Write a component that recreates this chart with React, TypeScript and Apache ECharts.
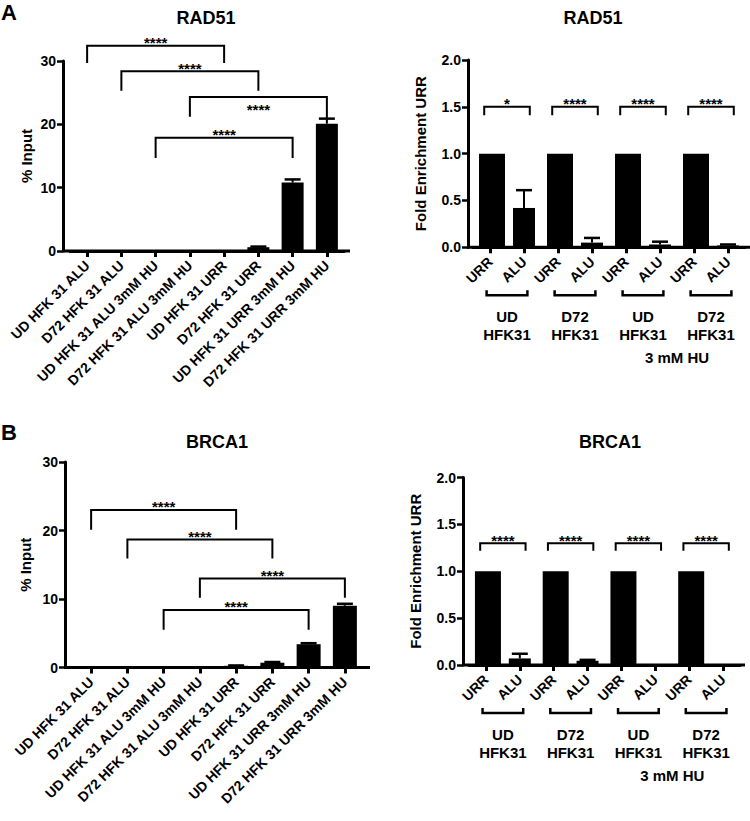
import React, { useEffect, useRef } from "react";
import * as echarts from "echarts";

const FONT = "'Liberation Sans', Arial, Helvetica, sans-serif";

// ---------- data ----------
const inputCategories = [
  "UD HFK 31 ALU",
  "D72 HFK 31 ALU",
  "UD HFK 31 ALU 3mM HU",
  "D72 HFK 31 ALU 3mM HU",
  "UD HFK 31 URR",
  "D72 HFK 31 URR",
  "UD HFK 31 URR 3mM HU",
  "D72 HFK 31 URR 3mM HU",
];
const inputTicks = [0, 10, 20, 30];
const rad51Input = [0, 0, 0, 0, 0.03, 0.6, 10.8, 20.1];
const rad51InputErr = [0, 0, 0, 0, 0, 0.1, 0.5, 0.8];
const brca1Input = [0, 0, 0, 0, 0.25, 0.7, 3.4, 9.0];
const brca1InputErr = [0, 0, 0, 0, 0.05, 0.1, 0.15, 0.3];

const foldGroups = ["UD HFK31", "D72 HFK31", "UD HFK31", "D72 HFK31"];
const foldTargets = ["URR", "ALU"];
const foldCategories = foldGroups.flatMap((g, gi) => foldTargets.map((t) => `${gi}|${t}`));
const foldTicks = [0, 0.5, 1, 1.5, 2];
const rad51Fold = [1, 0.42, 1, 0.05, 1, 0.03, 1, 0.02];
const rad51FoldErr = [0, 0.19, 0, 0.05, 0, 0.03, 0, 0.01];
const brca1Fold = [1, 0.07, 1, 0.045, 1, 0.005, 1, 0.003];
const brca1FoldErr = [0, 0.05, 0, 0.01, 0, 0, 0, 0];
const treatmentLabel = "3 mM HU";
const treatmentSpan = [4, 7];

// significance brackets: [fromIndex, toIndex, barValue, leftLegEnd, rightLegEnd]
const rad51InputBrackets = [
  [0, 4, 32.4, 29.7, 29.7],
  [1, 5, 28.4, 25.3, 25.3],
  [3, 7, 24.3, 21.2, 21.0],
  [2, 6, 17.9, 14.7, 14.7],
];
const rad51InputStars = ["****", "****", "****", "****"];
const brca1InputBrackets = [
  [0, 4, 23.0, 20.1, 20.1],
  [1, 5, 18.7, 15.9, 15.9],
  [3, 7, 13.0, 10.2, 10.2],
  [2, 6, 8.4, 5.5, 5.5],
];
const brca1InputStars = ["****", "****", "****", "****"];
const rad51FoldBrackets = [
  [0, 1, 1.5, 1.41, 1.41],
  [2, 3, 1.5, 1.41, 1.41],
  [4, 5, 1.5, 1.41, 1.41],
  [6, 7, 1.5, 1.41, 1.41],
];
const rad51FoldStars = ["*", "****", "****", "****"];
const brca1FoldBrackets = [
  [0, 1, 1.3, 1.22, 1.22],
  [2, 3, 1.3, 1.22, 1.22],
  [4, 5, 1.3, 1.22, 1.22],
  [6, 7, 1.3, 1.22, 1.22],
];
const brca1FoldStars = ["****", "****", "****", "****"];

// ---------- layout ----------
type Panel = {
  title: string;
  letter?: string;
  letterY?: number;
  titleX: number;
  titleY: number;
  left: number;
  top: number;
  width: number;
  height: number;
  axisOffset: number;
  ext: number;
  nameGap: number;
  kind: "input" | "fold";
  values: number[];
  errs: number[];
  brackets: number[][];
  stars: string[];
  starsBelow: boolean[];
};

const panels: Panel[] = [
  {
    title: "RAD51", letter: "A", letterY: 12, titleX: 206, titleY: 18,
    left: 70, top: 61, width: 274, height: 190, axisOffset: 7, ext: 6, nameGap: 29,
    kind: "input", values: rad51Input, errs: rad51InputErr,
    brackets: rad51InputBrackets, stars: rad51InputStars, starsBelow: [false, false, true, false],
  },
  {
    title: "RAD51", titleX: 593, titleY: 18,
    left: 473, top: 60, width: 272, height: 187.3, axisOffset: 5, ext: 5, nameGap: 40,
    kind: "fold", values: rad51Fold, errs: rad51FoldErr,
    brackets: rad51FoldBrackets, stars: rad51FoldStars, starsBelow: [false, false, false, false],
  },
  {
    title: "BRCA1", letter: "B", letterY: 432, titleX: 217, titleY: 442,
    left: 73, top: 462, width: 290, height: 205.5, axisOffset: 8, ext: 7, nameGap: 32,
    kind: "input", values: brca1Input, errs: brca1InputErr,
    brackets: brca1InputBrackets, stars: brca1InputStars, starsBelow: [false, false, false, false],
  },
  {
    title: "BRCA1", titleX: 610, titleY: 442,
    left: 469, top: 477.5, width: 271, height: 187.5, axisOffset: 6, ext: 5, nameGap: 40,
    kind: "fold", values: brca1Fold, errs: brca1FoldErr,
    brackets: brca1FoldBrackets, stars: brca1FoldStars, starsBelow: [false, false, false, false],
  },
];

const boldText = (size: number) => ({
  fontFamily: FONT,
  fontWeight: "bold" as const,
  fontSize: size,
  fill: "#000",
});

function buildOption() {
  const grid: any[] = [];
  const xAxis: any[] = [];
  const yAxis: any[] = [];
  const series: any[] = [];
  const graphic: any[] = [];

  panels.forEach((p, i) => {
    grid.push({ left: p.left, top: p.top, width: p.width, height: p.height, outerBoundsMode: "none", containLabel: false });
    const isInput = p.kind === "input";
    const ticks = isInput ? inputTicks : foldTicks;
    xAxis.push({
      type: "category",
      gridIndex: i,
      data: isInput ? inputCategories : foldCategories,
      boundaryGap: true,
      axisLine: { show: true, onZero: false, lineStyle: { color: "#000", width: 3 } },
      axisTick: { show: true, alignWithLabel: true, length: 6, lineStyle: { color: "#000", width: 3 } },
      axisLabel: {
        show: true,
        interval: 0,
        rotate: 45,
        margin: 12,
        color: "#000",
        fontFamily: FONT,
        fontWeight: "bold",
        fontSize: 14,
        formatter: (v: string) => (isInput ? v : v.split("|")[1]),
      },
      splitLine: { show: false },
    });
    yAxis.push({
      type: "value",
      gridIndex: i,
      min: ticks[0],
      max: ticks[ticks.length - 1],
      interval: ticks[1] - ticks[0],
      offset: p.axisOffset,
      axisLine: { show: true, lineStyle: { color: "#000", width: 3 } },
      axisTick: { show: true, length: 6, lineStyle: { color: "#000", width: 2.5 } },
      axisLabel: {
        color: "#000",
        fontFamily: FONT,
        fontWeight: "bold",
        fontSize: 14,
        margin: 7,
        formatter: (v: number) => (isInput ? String(v) : v.toFixed(1)),
      },
      splitLine: { show: false },
      name: isInput ? "% Input" : "Fold Enrichment URR",
      nameLocation: "middle",
      nameRotate: 90,
      nameGap: p.nameGap,
      nameTextStyle: { color: "#000", fontFamily: FONT, fontWeight: "bold", fontSize: 15 },
    });

    if (isInput) {
      series.push({
        type: "bar",
        xAxisIndex: i,
        yAxisIndex: i,
        data: p.values,
        barWidth: i === 0 ? 22 : 24,
        itemStyle: { color: "#000" },
        z: 2,
      });
    } else {
      series.push({
        type: "bar",
        xAxisIndex: i,
        yAxisIndex: i,
        data: p.values.map((v, k) => (k % 2 === 0 ? v : "-")),
        barWidth: 26,
        barGap: "-100%",
        itemStyle: { color: "#000" },
        z: 2,
      });
      series.push({
        type: "bar",
        xAxisIndex: i,
        yAxisIndex: i,
        data: p.values.map((v, k) => (k % 2 === 1 ? v : "-")),
        barWidth: 22,
        barGap: "-100%",
        itemStyle: { color: "#000" },
        z: 2,
      });
    }

    // error bars (upper only)
    series.push({
      type: "custom",
      xAxisIndex: i,
      yAxisIndex: i,
      data: p.values.map((v, k) => [k, v, p.errs[k]]),
      encode: { x: 0, y: 1 },
      z: 3,
      renderItem: (_params: any, api: any) => {
        const x = api.value(0);
        const v = api.value(1);
        const e = api.value(2);
        if (!e) return null;
        const base = api.coord([x, v]);
        const top = api.coord([x, v + e]);
        return {
          type: "group",
          children: [
            { type: "line", shape: { x1: base[0], y1: base[1], x2: base[0], y2: top[1] }, style: { stroke: "#000", lineWidth: 2 } },
            { type: "line", shape: { x1: base[0] - 8, y1: top[1], x2: base[0] + 8, y2: top[1] }, style: { stroke: "#000", lineWidth: 2.5 } },
          ],
        };
      },
    });

    // significance brackets
    const pad = isInput ? 0 : 0.17;
    series.push({
      type: "custom",
      xAxisIndex: i,
      yAxisIndex: i,
      data: p.brackets,
      encode: { x: 0, y: 2 },
      clip: false,
      z: 4,
      renderItem: (params: any, api: any) => {
        const b = p.brackets[params.dataIndex];
        const bw = api.size([1, 0])[0];
        const l = api.coord([b[0], b[2]]);
        const r = api.coord([b[1], b[2]]);
        const xl = l[0] - pad * bw;
        const xr = r[0] + pad * bw;
        const yl = api.coord([b[0], b[3]])[1];
        const yr = api.coord([b[1], b[4]])[1];
        const below = p.starsBelow[params.dataIndex];
        return {
          type: "group",
          children: [
            {
              type: "polyline",
              shape: { points: [[xl, yl], [xl, l[1]], [xr, l[1]], [xr, yr]] },
              style: { stroke: "#000", lineWidth: 2, fill: null },
            },
            {
              type: "text",
              x: (xl + xr) / 2,
              y: l[1] + (below ? 12 : -3),
              style: { text: p.stars[params.dataIndex], align: "center", verticalAlign: "middle", ...boldText(15) },
            },
          ],
        };
      },
    });

    if (!isInput) {
      // group brackets and labels under the axis
      series.push({
        type: "custom",
        xAxisIndex: i,
        yAxisIndex: i,
        data: foldGroups.map((g, gi) => [gi * 2, gi * 2 + 1, 0]),
        encode: { x: 0, y: 2 },
        clip: false,
        renderItem: (params: any, api: any) => {
          const gi = params.dataIndex;
          const bw = api.size([1, 0])[0];
          const l = api.coord([gi * 2, 0]);
          const r = api.coord([gi * 2 + 1, 0]);
          const xl = l[0] - 0.1 * bw;
          const xr = r[0] + 0.1 * bw;
          const y0 = l[1] + 48;
          return {
            type: "group",
            children: [
              {
                type: "polyline",
                shape: { points: [[xl, y0 - 5], [xl, y0], [xr, y0], [xr, y0 - 5]] },
                style: { stroke: "#000", lineWidth: 2.5, fill: null },
              },
              {
                type: "text",
                x: (l[0] + r[0]) / 2,
                y: l[1] + 60,
                style: {
                  text: foldGroups[gi].replace(" ", "\n"),
                  align: "center",
                  verticalAlign: "top",
                  lineHeight: 18,
                  ...boldText(15),
                },
              },
            ],
          };
        },
      });
      series.push({
        type: "custom",
        xAxisIndex: i,
        yAxisIndex: i,
        data: [[treatmentSpan[0], treatmentSpan[1], 0]],
        encode: { x: 0, y: 2 },
        clip: false,
        renderItem: (_params: any, api: any) => {
          const l = api.coord([treatmentSpan[0], 0]);
          const r = api.coord([treatmentSpan[1], 0]);
          return {
            type: "text",
            x: (l[0] + r[0]) / 2,
            y: l[1] + 110,
            style: { text: treatmentLabel, align: "center", verticalAlign: "middle", ...boldText(15) },
          };
        },
      });
    }

    // titles and panel letters
    graphic.push({
      type: "text",
      x: p.titleX,
      y: p.titleY,
      style: { text: p.title, align: "center", verticalAlign: "middle", ...boldText(18) },
    });
    if (p.letter) {
      graphic.push({
        type: "text",
        x: 1,
        y: p.letterY,
        style: { text: p.letter, align: "left", verticalAlign: "middle", ...boldText(22) },
      });
    }
    // x-axis line extended to meet the offset y axis
    const yb = p.top + p.height;
    graphic.push({
      type: "line",
      shape: { x1: p.left - p.axisOffset - 1, y1: yb, x2: p.left + p.width + p.ext, y2: yb },
      style: { stroke: "#000", lineWidth: 3 },
      z: 10,
    });
  });

  return {
    animation: false,
    backgroundColor: "#fff",
    grid,
    xAxis,
    yAxis,
    series,
    graphic,
  };
}

export default function App() {
  const ref = useRef<HTMLDivElement>(null);
  useEffect(() => {
    if (!ref.current) return;
    const chart = echarts.init(ref.current, undefined, { renderer: "svg" });
    chart.setOption(buildOption() as any);
    return () => chart.dispose();
  }, []);
  return (
    <div
      ref={ref}
      style={{ position: "absolute", left: 0, top: 0, width: 750, height: 821, background: "#fff" }}
    />
  );
}
